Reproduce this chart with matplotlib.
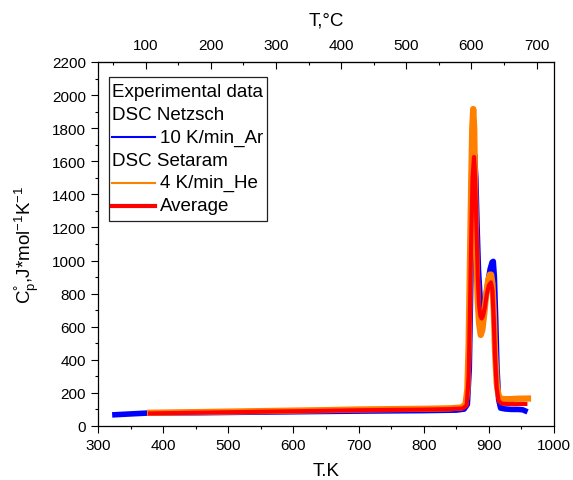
import matplotlib
matplotlib.use('Agg')
import matplotlib.pyplot as plt
from matplotlib.lines import Line2D
from matplotlib.patches import Rectangle
from matplotlib.ticker import MultipleLocator

plt.rcParams['font.family'] = ['Liberation Sans', 'DejaVu Sans']
plt.rcParams['mathtext.fontset'] = 'custom'
plt.rcParams['mathtext.rm'] = 'Liberation Sans'
plt.rcParams['mathtext.it'] = 'Liberation Sans'
plt.rcParams['mathtext.default'] = 'regular'

# DSC Netzsch, 10 K/min, Ar
t_blue = [326, 340, 360, 380, 450, 500, 600, 700, 800, 850, 862, 867, 870, 872, 874, 876,
          878, 880, 882, 884, 886.5, 888.5, 890.5, 893, 896, 899, 902, 905, 906.8, 908.5,
          910.5, 912.5, 915, 918, 925, 935, 945, 952, 955.5]
cp_blue = [68, 71, 75, 79, 80, 82, 86, 90, 93, 96, 102, 130, 350, 800, 1250, 1550,
           1640, 1500, 1200, 950, 780, 720, 697, 720, 800, 880, 950, 990, 995, 900,
           650, 350, 160, 108, 103, 100, 100, 98, 92]

# DSC Setaram, 4 K/min, He
t_orange = [380, 450, 500, 550, 600, 650, 700, 750, 800, 840, 858, 864, 867, 869, 871, 873,
            874.5, 876, 877.5, 879, 881, 883, 885, 887.5, 890, 893, 896, 899, 901.5, 903.5,
            905.5, 907.5, 909.5, 912, 915, 918, 925, 935, 945, 960]
cp_orange = [80, 84, 87, 90, 93, 96, 100, 102, 104, 107, 112, 130, 220, 500, 1000, 1500,
             1800, 1916, 1800, 1400, 1000, 750, 620, 550, 580, 680, 800, 880, 915, 915,
             860, 700, 450, 260, 180, 165, 162, 163, 165, 166]

# average
t_red = [380, 450, 500, 550, 600, 650, 700, 750, 800, 840, 860, 866, 869, 871, 873, 875,
         877.2, 879, 881, 883, 885, 887, 889, 891, 894, 897, 900, 903.3, 905.5, 907.5,
         909.5, 912, 915, 920, 930, 940, 950, 956]
cp_red = [76, 80, 83, 86, 89, 92, 95, 97, 99, 102, 106, 125, 300, 700, 1150, 1500,
          1626, 1500, 1200, 900, 730, 665, 650, 665, 720, 800, 850, 868, 820, 650,
          420, 230, 150, 135, 133, 132, 133, 133]

W, H = 573, 481
fig = plt.figure(figsize=(W / 100, H / 100), dpi=100)
ax = fig.add_axes([98 / W, 1 - 427 / H, (554 - 98) / W, (427 - 63) / H])

ax.plot(t_blue, cp_blue, color='#0000ff', lw=4.0, solid_joinstyle='round')
ax.plot(t_orange, cp_orange, color='#ff8000', lw=4.5, solid_joinstyle='round')
ax.plot(t_red, cp_red, color='#ff0000', lw=3.0, solid_joinstyle='round')

ax.set_xlim(300, 1000)
ax.set_ylim(0, 2200)
ax.xaxis.set_major_locator(MultipleLocator(100))
ax.xaxis.set_minor_locator(MultipleLocator(50))
ax.yaxis.set_major_locator(MultipleLocator(200))
ax.yaxis.set_minor_locator(MultipleLocator(100))
ax.tick_params(which='both', direction='out', labelsize=11, width=0.8)
ax.tick_params(which='major', length=5)
ax.tick_params(which='minor', length=2.5)
ax.set_xlabel('T.K', fontsize=13.5, labelpad=7)
ax.set_ylabel(r'$C^{°}_{p}$,J*mol$^{-1}$K$^{-1}$', fontsize=13.5, labelpad=8)
for s in ax.spines.values():
    s.set_linewidth(0.9)

top = ax.secondary_xaxis('top', functions=(lambda k: k - 273.15, lambda c: c + 273.15))
top.xaxis.set_minor_locator(MultipleLocator(50))
top.set_xticks([100, 200, 300, 400, 500, 600, 700])
top.tick_params(which='both', direction='in', labelsize=11, width=0.8, pad=7)
top.tick_params(which='major', length=5)
top.tick_params(which='minor', length=2.5)
top.set_xlabel('T,°C', fontsize=13.5, labelpad=10)


# hand-made legend (pixel coords from top-left)
def fx(px):
    return px / W


def fy(py):
    return 1 - py / H


fig.patches.append(Rectangle((fx(109), fy(222)), fx(267) - fx(109), fy(78) - fy(222),
                             transform=fig.transFigure, fill=True, facecolor='white',
                             edgecolor='#222222', lw=0.9, zorder=5))
rows = [('Experimental data', None, 0), ('DSC Netzsch', None, 0),
        ('10 K/min_Ar', '#0000ff', 1.5), ('DSC Setaram', None, 0),
        ('4 K/min_He', '#ff8000', 1.5), ('Average', '#ff0000', 3.0)]
for i, (txt, col, lw) in enumerate(rows):
    y = 93 + i * 22.7
    if col is None:
        fig.text(fx(112), fy(y), txt, fontsize=13.5, va='center', ha='left', zorder=6)
    else:
        fig.add_artist(Line2D([fx(112), fx(155)], [fy(y), fy(y)], color=col, lw=lw,
                              transform=fig.transFigure, zorder=6))
        fig.text(fx(160), fy(y), txt, fontsize=13.5, va='center', ha='left', zorder=6)

fig.savefig('out.png', dpi=100)
